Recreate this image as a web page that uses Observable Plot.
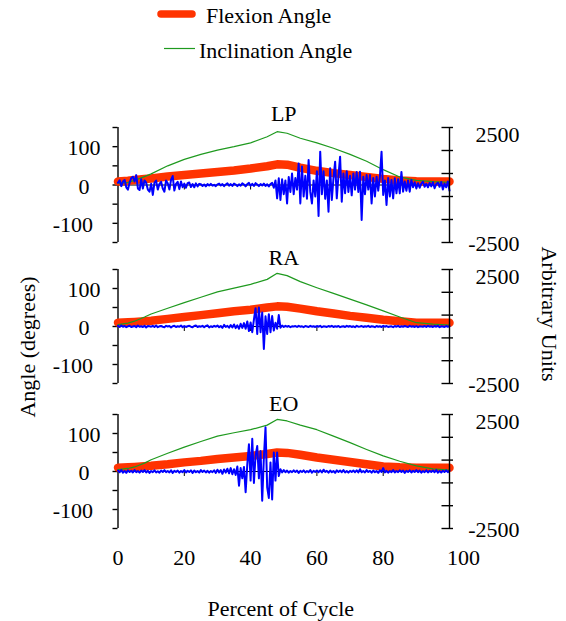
<!DOCTYPE html>
<html><head><meta charset="utf-8">
<script src="https://cdn.jsdelivr.net/npm/d3@7"></script>
<script src="https://cdn.jsdelivr.net/npm/@observablehq/plot@0.6"></script>
<style>
body{margin:0;background:#fff;}
#chart{position:relative;width:566px;height:621px;overflow:hidden;background:#fff;}
#chart svg{position:absolute;left:0;}
</style></head><body><div id="chart"></div>
<script>
// ---------------- data ----------------
const panelNames = ["LP", "RA", "EO"];
const seriesNames = ["Flexion Angle", "Inclination Angle"];
const pctAngles = [0,3,5,8,10,15,20,25,30,35,40,45,48,51,55,60,65,70,75,80,85,90,95,100];

const flexLP = [9,11,13,15.5,17,22,26,30,34,38,43,49,54,53,45,37,31,26,21,16,12,10,9,9];
const inclLP = [4,7,12,22,29,50,67,80,91,100,110,126,139,135,122,110,96,80,62,40,21,12,9,7];
const flexRA = [10,11,12,14,15,20,25,30,35,40,44,50,53,52,47,40,34,28,23,18,14,10,10,10];
const inclRA = [5,9,14,25,33,48,63,77,91,101,111,124,140,134,118,102,87,72,57,41,25,10,6,4];
const flexEO = [10,11,12,14,15,19,24,28,33,37,41,46,50,49,44,37,31,25,19,13,11,10,10,10];
const inclEO = [5,8,12,22,31,48,64,79,93,102,110,122,137,133,122,110,93,76,58,41,27,15,7,4];

// EMG (arbitrary units), sampled every emgStep percent of cycle from 0 to 100
const emgStep = 0.5;
const emgLP = [
 100,200,-50,150,220,-100,-200,100,300,360,
 150,430,-150,-220,250,-150,200,100,-200,-290,
 50,-430,100,190,-200,50,140,-150,-290,200,
 80,-200,220,390,-240,50,140,-180,150,-100,
 60,-120,80,110,-90,40,-100,70,-60,50,
 30,-40,20,-60,40,-20,50,-30,10,-50,
 30,60,-20,40,-50,20,70,-30,40,-40,
 60,20,-50,30,-30,70,20,-60,40,90,
 -30,50,-40,80,20,-50,40,-20,60,-40,
 30,-60,40,90,
 -120,200,-580,290,-650,250,-400,200,-800,350,
 -300,500,-400,300,-200,940,-800,800,-500,400,
 -600,1090,-300,-800,200,-500,600,-1350,1450,-400,
 600,-600,200,-1160,725,-650,300,1015,-580,400,
 1230,-725,500,-360,600,-300,400,-450,500,-200,
 560,-300,580,-1520,360,-400,430,-200,430,-800,
 300,-500,360,-250,360,1450,-430,200,-870,300,
 -500,220,-580,290,-360,250,-360,570,-290,150,
 -250,200,-290,220,-100,120,-150,
 80,-120,60,140,-80,50,-100,90,-60,120,-140,40,100,-80,130,-200,60,-100,150,-250
];
const emgRA = [
 30,-20,40,-10,20,-30,10,30,-20,0,
 20,-30,40,-10,10,-20,30,-40,20,10,
 -10,30,-20,40,-30,10,20,-10,-30,30,
 0,20,-40,10,30,-20,10,-10,40,-30,
 20,-20,10,30,-10,-30,20,40,-20,10,
 -10,30,-30,20,50,-40,10,-20,30,-10,
 40,-30,20,-60,70,-20,30,-50,60,-40,
 90,-70,50,-100,120,-60,
 150,-100,220,-200,180,-250,300,800,-330,830,
 -250,610,-990,450,-330,540,-250,460,-180,160,
 -100,500,-50,40,
 -20,30,-10,20,-30,10,0,20,-20,30,
 -10,10,-30,20,0,-20,30,-10,10,-20,
 20,-10,30,-30,10,0,-20,20,-10,30,
 -20,10,-10,20,-30,0,10,-20,30,-10,
 20,-20,10,-30,30,-10,0,20,-20,10,
 -10,30,-20,10,0,-30,20,-10,10,-20,
 30,-10,20,-20,0,10,-30,20,-10,30,
 -20,10,-10,20,0,-20,30,-10,10,-20,
 20,-30,10,0,-10,20,-20,30,-10,10,
 -20,20,-10,30,-30,10,0,-20,20,-10,
 10
];
const emgEO = [
 40,-30,60,-50,20,-60,50,-20,30,-40,
 60,-30,20,-50,40,-20,60,-40,30,-60,
 20,-30,50,-40,10,-50,40,-20,60,-30,
 20,-40,50,-60,30,-20,40,-50,20,-30,
 60,-40,30,-20,50,-60,40,-30,20,-50,
 60,-20,40,-40,30,-50,20,-30,50,-60,
 80,-40,60,-100,90,-50,120,-80,150,-120,
 100,-150,220,-620,150,-300,200,-910,300,1190,
 -400,1435,-500,700,1115,-300,900,-1280,600,1940,
 -700,-1160,400,-1230,830,-400,830,-200,100,
 -40,60,-30,40,-50,20,-30,50,-20,40,
 -60,30,-20,50,-40,20,-30,60,-50,30,
 -20,40,-30,50,-40,80,-20,30,-50,40,
 -30,20,-60,50,-20,40,-30,60,-40,20,
 -50,30,-20,40,-30,50,-40,100,-30,20,
 -40,60,-20,30,-50,40,-30,20,-60,50,
 -20,150,-40,30,-50,20,-30,60,-40,20,
 -30,50,-20,40,-60,30,-20,50,-40,30,
 -20,60,-30,40,-50,20,-30,50,-40,30,
 -20,40,-30,60,-50,20,-40,30,-20,50,
 -30,40
];

const angleDomain = [-150, 150];
const auDomain = [-2500, 2500];
const leftTicks = [-150,-100,-50,0,50,100,150];
const leftLabelsA = [100, 0];
const leftLabelsB = [-100];
const rightTicks = [2500,1500,500,-500,-1500,-2500];
const rightTopLabel = [2500];
const rightBottomLabel = [-2500];
const xTickMarks = [20,40,60,80];
const xTickLabels = [0,20,40,60,80];
const xLastLabel = [100];
const yTitle = "Angle (degrees)";
const y2Title = "Arbitrary Units";
const xTitle = "Percent of Cycle";

// ---------------- layout / style ----------------
const W = 566, ML = 117.5, MR = 117;
const FONT = '"Liberation Serif","Times New Roman",serif';
const FS = 22;
const RED = "#ff3300", GREEN = "#1f9a1f", BLUE = "#0000ff";
const layout = [
  {svgTop: 90,  mt: 37, mb: 5,  h: 157, titleDy: -14},
  {svgTop: 247, mt: 22, mb: 5,  h: 141, titleDy: -12},
  {svgTop: 388, mt: 26, mb: 93, h: 233, titleDy: -11}
];
const flexSets = [flexLP, flexRA, flexEO];
const inclSets = [inclLP, inclRA, inclEO];
const emgSets = [emgLP, emgRA, emgEO];
const pxPerX = (W - ML - MR) / 100;

const root = document.getElementById("chart");

panelNames.forEach((name, k) => {
  const L = layout[k];
  const frameH = L.h - L.mt - L.mb;
  const degPerPx = (angleDomain[1] - angleDomain[0]) / frameH;
  const angles = pctAngles.map((x, i) => ({x, flex: flexSets[k][i], incl: inclSets[k][i]}));
  const emg = emgSets[k].map((v, i) => ({x: i * emgStep, v}));
  const common = {
    width: W, height: L.h, marginLeft: ML, marginRight: MR, marginTop: L.mt, marginBottom: L.mb,
    style: {background: "transparent", overflow: "visible"},
    x: {domain: [0, 100], axis: null}
  };
  const txt = {fontFamily: FONT, fontSize: FS, fill: "black", lineAnchor: "middle"};
  const marksA = [
    Plot.ruleY([0], {x1: 0, x2: 100, stroke: "black", strokeWidth: 1}),
    Plot.ruleX(xTickMarks, {x: d => d, y1: 0, y2: -5 * degPerPx, stroke: "black", strokeWidth: 1}),
    Plot.ruleX([0], {y1: angleDomain[0], y2: angleDomain[1], stroke: "black", strokeWidth: 1.4}),
    Plot.ruleY(leftTicks, {y: d => d, x1: 0, x2: -5 / pxPerX, stroke: "black", strokeWidth: 1.4}),
    Plot.line(angles, {x: "x", y: "flex", stroke: RED, strokeWidth: 8.5, strokeLinecap: "round", strokeLinejoin: "round"}),
    Plot.line(angles, {x: "x", y: "incl", stroke: GREEN, strokeWidth: 1.2}),
    Plot.text(leftLabelsA, {y: d => d, text: d => String(d), frameAnchor: "left", dx: -34, dy: 1.5, textAnchor: "middle", ...txt}),
    Plot.text(leftLabelsB, {y: d => d, text: d => String(d), frameAnchor: "left", dx: -25, dy: 1.5, textAnchor: "end", ...txt}),
    Plot.text([name], {text: d => d, frameAnchor: "top", dy: L.titleDy, ...txt})
  ];
  if (k === panelNames.length - 1) {
    marksA.push(
      Plot.text(xTickLabels, {x: d => d, text: d => String(d), frameAnchor: "bottom", dy: 29, ...txt}),
      Plot.text(xLastLabel, {x: d => d, text: d => String(d), frameAnchor: "bottom", dy: 29, dx: 14, ...txt}),
      Plot.text([xTitle], {text: d => d, frameAnchor: "bottom", dy: 80, dx: -3, ...txt})
    );
  }
  const angleChart = Plot.plot({...common, y: {domain: angleDomain, axis: null}, marks: marksA});
  const emgChart = Plot.plot({...common, y: {domain: auDomain, axis: null}, marks: [
    Plot.line(emg, {x: "x", y: "v", stroke: BLUE, strokeWidth: 2, strokeLinejoin: "round"}),
    Plot.ruleX([100], {y1: auDomain[0], y2: auDomain[1], stroke: "black", strokeWidth: 1.4}),
    Plot.ruleY(rightTicks, {y: d => d, x1: 100 - 7.5 / pxPerX, x2: 100 + 4 / pxPerX, stroke: "black", strokeWidth: 1.4}),
    Plot.text(rightTopLabel, {y: d => d, text: d => String(d), frameAnchor: "right", dx: 70, dy: 7, textAnchor: "end", ...txt}),
    Plot.text(rightBottomLabel, {y: d => d, text: d => String(d), frameAnchor: "right", dx: 70, dy: 1, textAnchor: "end", ...txt})
  ]});
  angleChart.style.top = L.svgTop + "px";
  emgChart.style.top = L.svgTop + "px";
  root.appendChild(angleChart);
  root.appendChild(emgChart);
});

// legend and axis titles overlay
const ov = d3.select(root).append("svg")
  .attr("width", W).attr("height", 621)
  .style("top", "0px").style("pointer-events", "none")
  .attr("font-family", FONT).attr("font-size", FS);
ov.append("line").attr("x1", 161).attr("x2", 192).attr("y1", 14).attr("y2", 14)
  .attr("stroke", RED).attr("stroke-width", 7.5).attr("stroke-linecap", "round");
ov.append("text").attr("x", 206).attr("y", 22.5).text(seriesNames[0]);
ov.append("line").attr("x1", 164).attr("x2", 195).attr("y1", 48.5).attr("y2", 48.5)
  .attr("stroke", GREEN).attr("stroke-width", 1.2);
ov.append("text").attr("x", 199).attr("y", 57.5).text(seriesNames[1]);
ov.append("text").attr("transform", "translate(27,347) rotate(-90)")
  .attr("text-anchor", "middle").attr("dominant-baseline", "central").text(yTitle);
ov.append("text").attr("transform", "translate(549,314) rotate(90)")
  .attr("text-anchor", "middle").attr("dominant-baseline", "central").text(y2Title);
</script></body></html>
